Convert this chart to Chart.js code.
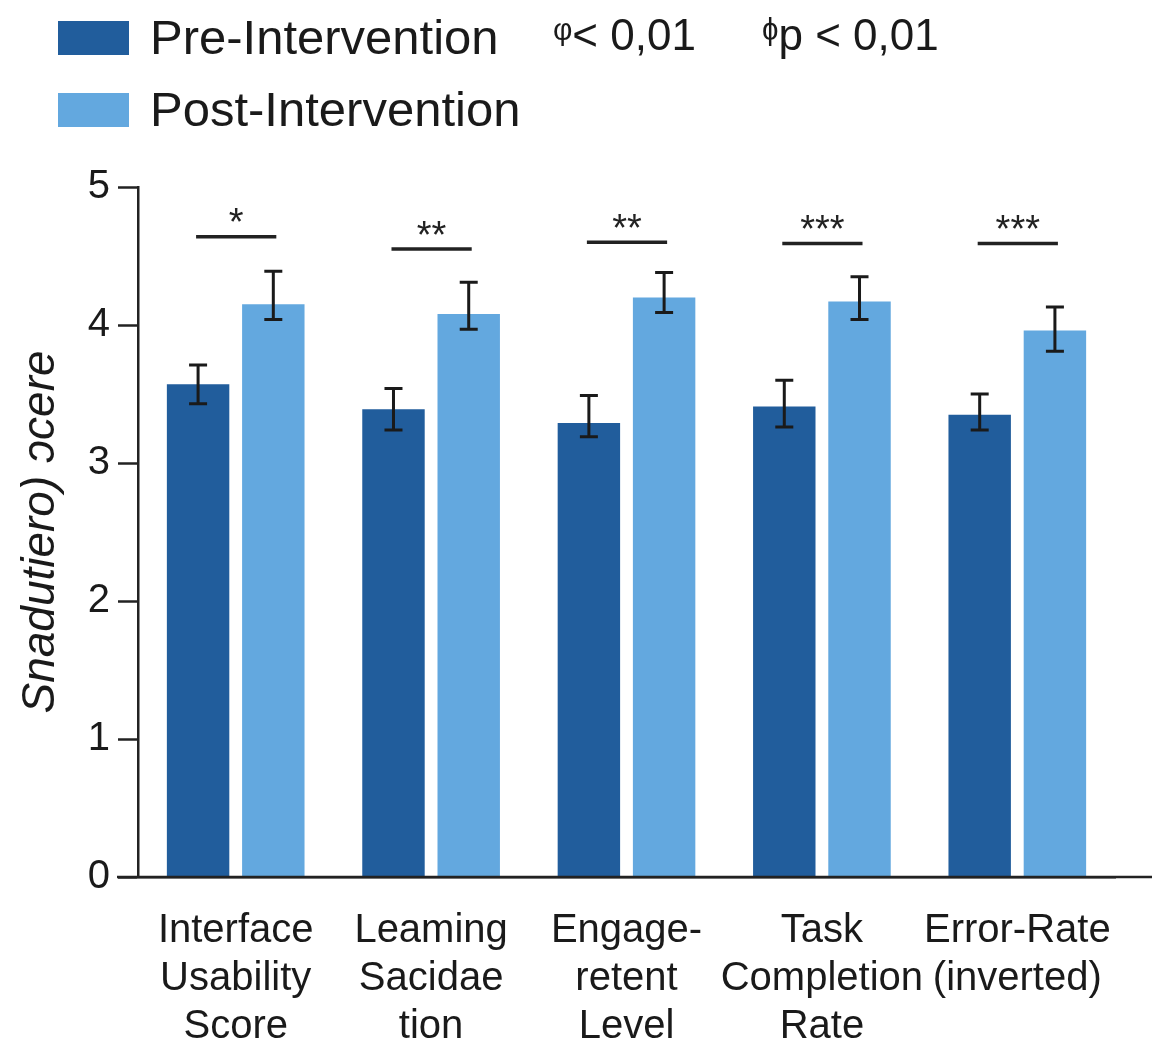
<!DOCTYPE html>
<html>
<head>
<meta charset="utf-8">
<script src="https://cdn.jsdelivr.net/npm/chart.js@4/dist/chart.umd.min.js"></script>
<style>
  html, body { margin: 0; padding: 0; background: #ffffff; }
  #wrap { width: 1152px; height: 1046px; }
</style>
</head>
<body>
<div id="wrap"><canvas id="c" width="1152" height="1046"></canvas></div>
<script>
// ---- data ----
const categories = [
  ["Interface", "Usability", "Score"],
  ["Leaming", "Sacidae", "tion"],
  ["Engage-", "retent", "Level"],
  ["Task", "Completion", "Rate"],
  ["Error-Rate", "(inverted)"]
];
const seriesNames = ["Pre-Intervention", "Post-Intervention"];
const preValues  = [3.57, 3.39, 3.29, 3.41, 3.35];
const postValues = [4.15, 4.08, 4.20, 4.17, 3.96];
const preErrLow   = [3.43, 3.24, 3.19, 3.26, 3.24];
const preErrHigh  = [3.71, 3.54, 3.49, 3.60, 3.50];
const postErrLow  = [4.04, 3.97, 4.09, 4.04, 3.81];
const postErrHigh = [4.39, 4.31, 4.38, 4.35, 4.13];
const sigLevel = [4.64, 4.55, 4.60, 4.59, 4.59];
const sigStars = ["*", "**", "**", "***", "***"];
const yTicks = [0, 1, 2, 3, 4, 5];
const yTitle = "Snadutiero) \u0254cere";
const pNotes = ["\u1D60< 0,01", "\u1DB2p < 0,01"];

// ---- style ----
const PRE_COLOR = "#215d9c";
const POST_COLOR = "#63a8df";
const INK = "#1a1a1a";
const FONT = "'Liberation Sans', Arial, sans-serif";

const errLow = [preErrLow, postErrLow];
const errHigh = [preErrHigh, postErrHigh];

const errorBarPlugin = {
  id: "errorBars",
  afterDatasetsDraw(chart) {
    const ctx = chart.ctx;
    const y = chart.scales.y;
    ctx.save();
    ctx.strokeStyle = INK;
    ctx.lineWidth = 3;
    chart.data.datasets.forEach((ds, di) => {
      const meta = chart.getDatasetMeta(di);
      meta.data.forEach((bar, i) => {
        const yl = y.getPixelForValue(errLow[di][i]);
        const yh = y.getPixelForValue(errHigh[di][i]);
        const cap = 9;
        ctx.beginPath();
        ctx.moveTo(bar.x, yl); ctx.lineTo(bar.x, yh);
        ctx.moveTo(bar.x - cap, yl); ctx.lineTo(bar.x + cap, yl);
        ctx.moveTo(bar.x - cap, yh); ctx.lineTo(bar.x + cap, yh);
        ctx.stroke();
      });
    });
    ctx.restore();
  }
};

const sigPlugin = {
  id: "sig",
  afterDatasetsDraw(chart) {
    const ctx = chart.ctx;
    const y = chart.scales.y;
    const m0 = chart.getDatasetMeta(0), m1 = chart.getDatasetMeta(1);
    ctx.save();
    ctx.strokeStyle = "#222";
    ctx.fillStyle = "#222";
    ctx.lineWidth = 3.5;
    ctx.textAlign = "center";
    ctx.textBaseline = "middle";
    ctx.font = "38px " + FONT;
    sigLevel.forEach((lv, i) => {
      const x0 = m0.data[i].x - 2, x1 = m1.data[i].x + 3;
      const yy = y.getPixelForValue(lv);
      ctx.beginPath(); ctx.moveTo(x0, yy); ctx.lineTo(x1, yy); ctx.stroke();
      ctx.fillText(sigStars[i], (x0 + x1) / 2, yy - 12);
    });
    ctx.restore();
  }
};

const legendPlugin = {
  id: "customLegend",
  afterDraw(chart) {
    const ctx = chart.ctx;
    ctx.save();
    const colors = [PRE_COLOR, POST_COLOR];
    const rows = [38, 110];
    ctx.textBaseline = "middle";
    ctx.textAlign = "left";
    seriesNames.forEach((name, i) => {
      ctx.fillStyle = colors[i];
      ctx.fillRect(58, rows[i] - 17, 71, 34);
      ctx.fillStyle = INK;
      ctx.font = "49px " + FONT;
      ctx.fillText(name, 150, rows[i] + 2);
    });
    ctx.fillStyle = INK;
    ctx.font = "44px " + FONT;
    ctx.fillText(pNotes[0], 553, rows[0]);
    ctx.fillText(pNotes[1], 762, rows[0]);
    ctx.restore();
  }
};

const axisExtPlugin = {
  id: "axisExt",
  afterDraw(chart) {
    const ctx = chart.ctx;
    const a = chart.chartArea;
    ctx.save();
    ctx.strokeStyle = "#222";
    ctx.lineWidth = 2.5;
    ctx.beginPath();
    ctx.moveTo(117, a.bottom); ctx.lineTo(chart.width, a.bottom);
    ctx.stroke();
    ctx.restore();
  }
};

new Chart(document.getElementById("c"), {
  type: "bar",
  data: {
    labels: categories,
    datasets: [
      { label: seriesNames[0], data: preValues, backgroundColor: PRE_COLOR },
      { label: seriesNames[1], data: postValues, backgroundColor: POST_COLOR }
    ]
  },
  options: {
    responsive: false,
    devicePixelRatio: 1,
    animation: false,
    categoryPercentage: 0.77,
    barPercentage: 0.83,
    layout: { padding: { top: 187, right: 37, left: 0, bottom: 0 } },
    plugins: { legend: { display: false }, tooltip: { enabled: false } },
    scales: {
      x: {
        grid: { display: true, drawOnChartArea: false, drawTicks: false },
        border: { display: true, color: "#222", width: 2.5 },
        ticks: {
          autoSkip: false, maxRotation: 0, minRotation: 0,
          color: INK, padding: 30,
          font: { family: FONT, size: 40, lineHeight: 1.2 }
        },
        afterFit(s) { s.height = 169; }
      },
      y: {
        min: 0, max: 5,
        afterBuildTicks(s) { s.ticks = yTicks.map(v => ({ value: v })); },
        grid: { drawOnChartArea: false, drawTicks: true, tickLength: 20, tickColor: "#222", tickWidth: 2.5 },
        border: { display: true, color: "#222", width: 2.5 },
        ticks: { color: INK, padding: 8, font: { family: FONT, size: 40 } },
        title: {
          display: true, text: yTitle, color: INK,
          font: { family: FONT, size: 46, style: "italic" }, padding: { top: 14, bottom: 0 }
        },
        afterFit(s) { s.width = 138; }
      }
    }
  },
  plugins: [errorBarPlugin, sigPlugin, legendPlugin, axisExtPlugin]
});
</script>
</body>
</html>
